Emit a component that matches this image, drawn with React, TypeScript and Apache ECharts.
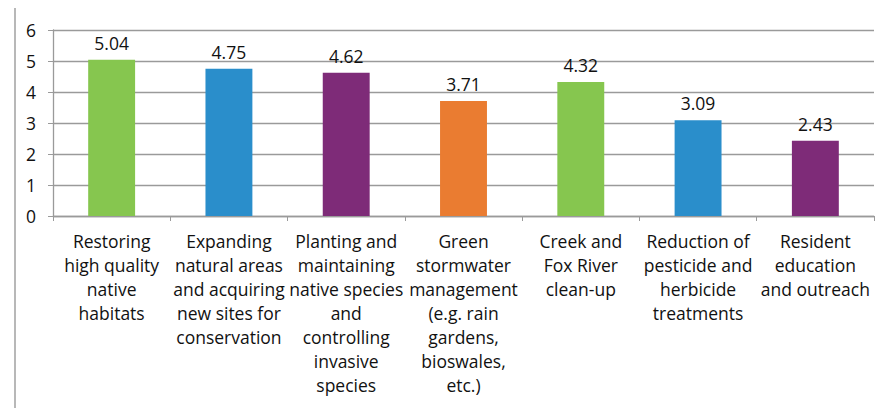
import React, { useEffect, useRef } from "react";
import * as echarts from "echarts";

const categories: string[] = [
  "Restoring\nhigh quality\nnative\nhabitats",
  "Expanding\nnatural areas\nand acquiring\nnew sites for\nconservation",
  "Planting and\nmaintaining\nnative species\nand\ncontrolling\ninvasive\nspecies",
  "Green\nstormwater\nmanagement\n(e.g. rain\ngardens,\nbioswales,\netc.)",
  "Creek and\nFox River\nclean-up",
  "Reduction of\npesticide and\nherbicide\ntreatments",
  "Resident\neducation\nand outreach",
];
const values: number[] = [5.04, 4.75, 4.62, 3.71, 4.32, 3.09, 2.43];
const barColors: string[] = ["#86C64F", "#2A8ECB", "#7E2B78", "#EA7C31", "#86C64F", "#2A8ECB", "#7E2B78"];
const yTicks = { min: 0, max: 6, interval: 1 };

const FONT = "'Open Sans', 'Noto Sans', sans-serif";

export default function App() {
  const ref = useRef<HTMLDivElement>(null);
  useEffect(() => {
    if (!ref.current) return;
    const chart = echarts.init(ref.current, null, { renderer: "svg" });
    chart.setOption({
      animation: false,
      textStyle: { fontFamily: FONT },
      grid: { left: 53, right: 1, top: 30, bottom: 192, containLabel: false },
      graphic: [
        {
          type: "line",
          shape: { x1: 15, y1: 8, x2: 15, y2: 408 },
          style: { stroke: "#A0A0A0", lineWidth: 1.5 },
        },
      ],
      xAxis: {
        type: "category",
        data: categories,
        axisLine: { show: true, lineStyle: { color: "#9A9A9A", width: 1.3 } },
        axisTick: { show: true, length: 5, alignWithLabel: false, lineStyle: { color: "#9A9A9A" } },
        axisLabel: {
          interval: 0,
          margin: 13,
          color: "#111",
          fontSize: 17.5,
          lineHeight: 24,
          fontFamily: FONT,
          align: "center",
        },
      },
      yAxis: {
        type: "value",
        min: yTicks.min,
        max: yTicks.max,
        interval: yTicks.interval,
        axisLine: { show: true, lineStyle: { color: "#9A9A9A", width: 1.3 } },
        axisTick: { show: true, length: 5, lineStyle: { color: "#9A9A9A" } },
        splitLine: { show: true, lineStyle: { color: "#9A9A9A", width: 1.3 } },
        axisLabel: { margin: 17, color: "#111", fontSize: 17.5, fontFamily: FONT },
      },
      series: [
        {
          type: "bar",
          data: values.map((v, i) => ({ value: v, itemStyle: { color: barColors[i] } })),
          barWidth: "40%",
          label: {
            show: true,
            position: "top",
            distance: 8,
            color: "#111",
            fontSize: 17.5,
            fontFamily: FONT,
            formatter: (p: any) => p.value.toFixed(2),
          },
        },
      ],
    });
    return () => chart.dispose();
  }, []);
  return (
    <div
      ref={ref}
      style={{ position: "absolute", left: 0, top: 0, width: 875, height: 408, background: "#fff" }}
    />
  );
}
